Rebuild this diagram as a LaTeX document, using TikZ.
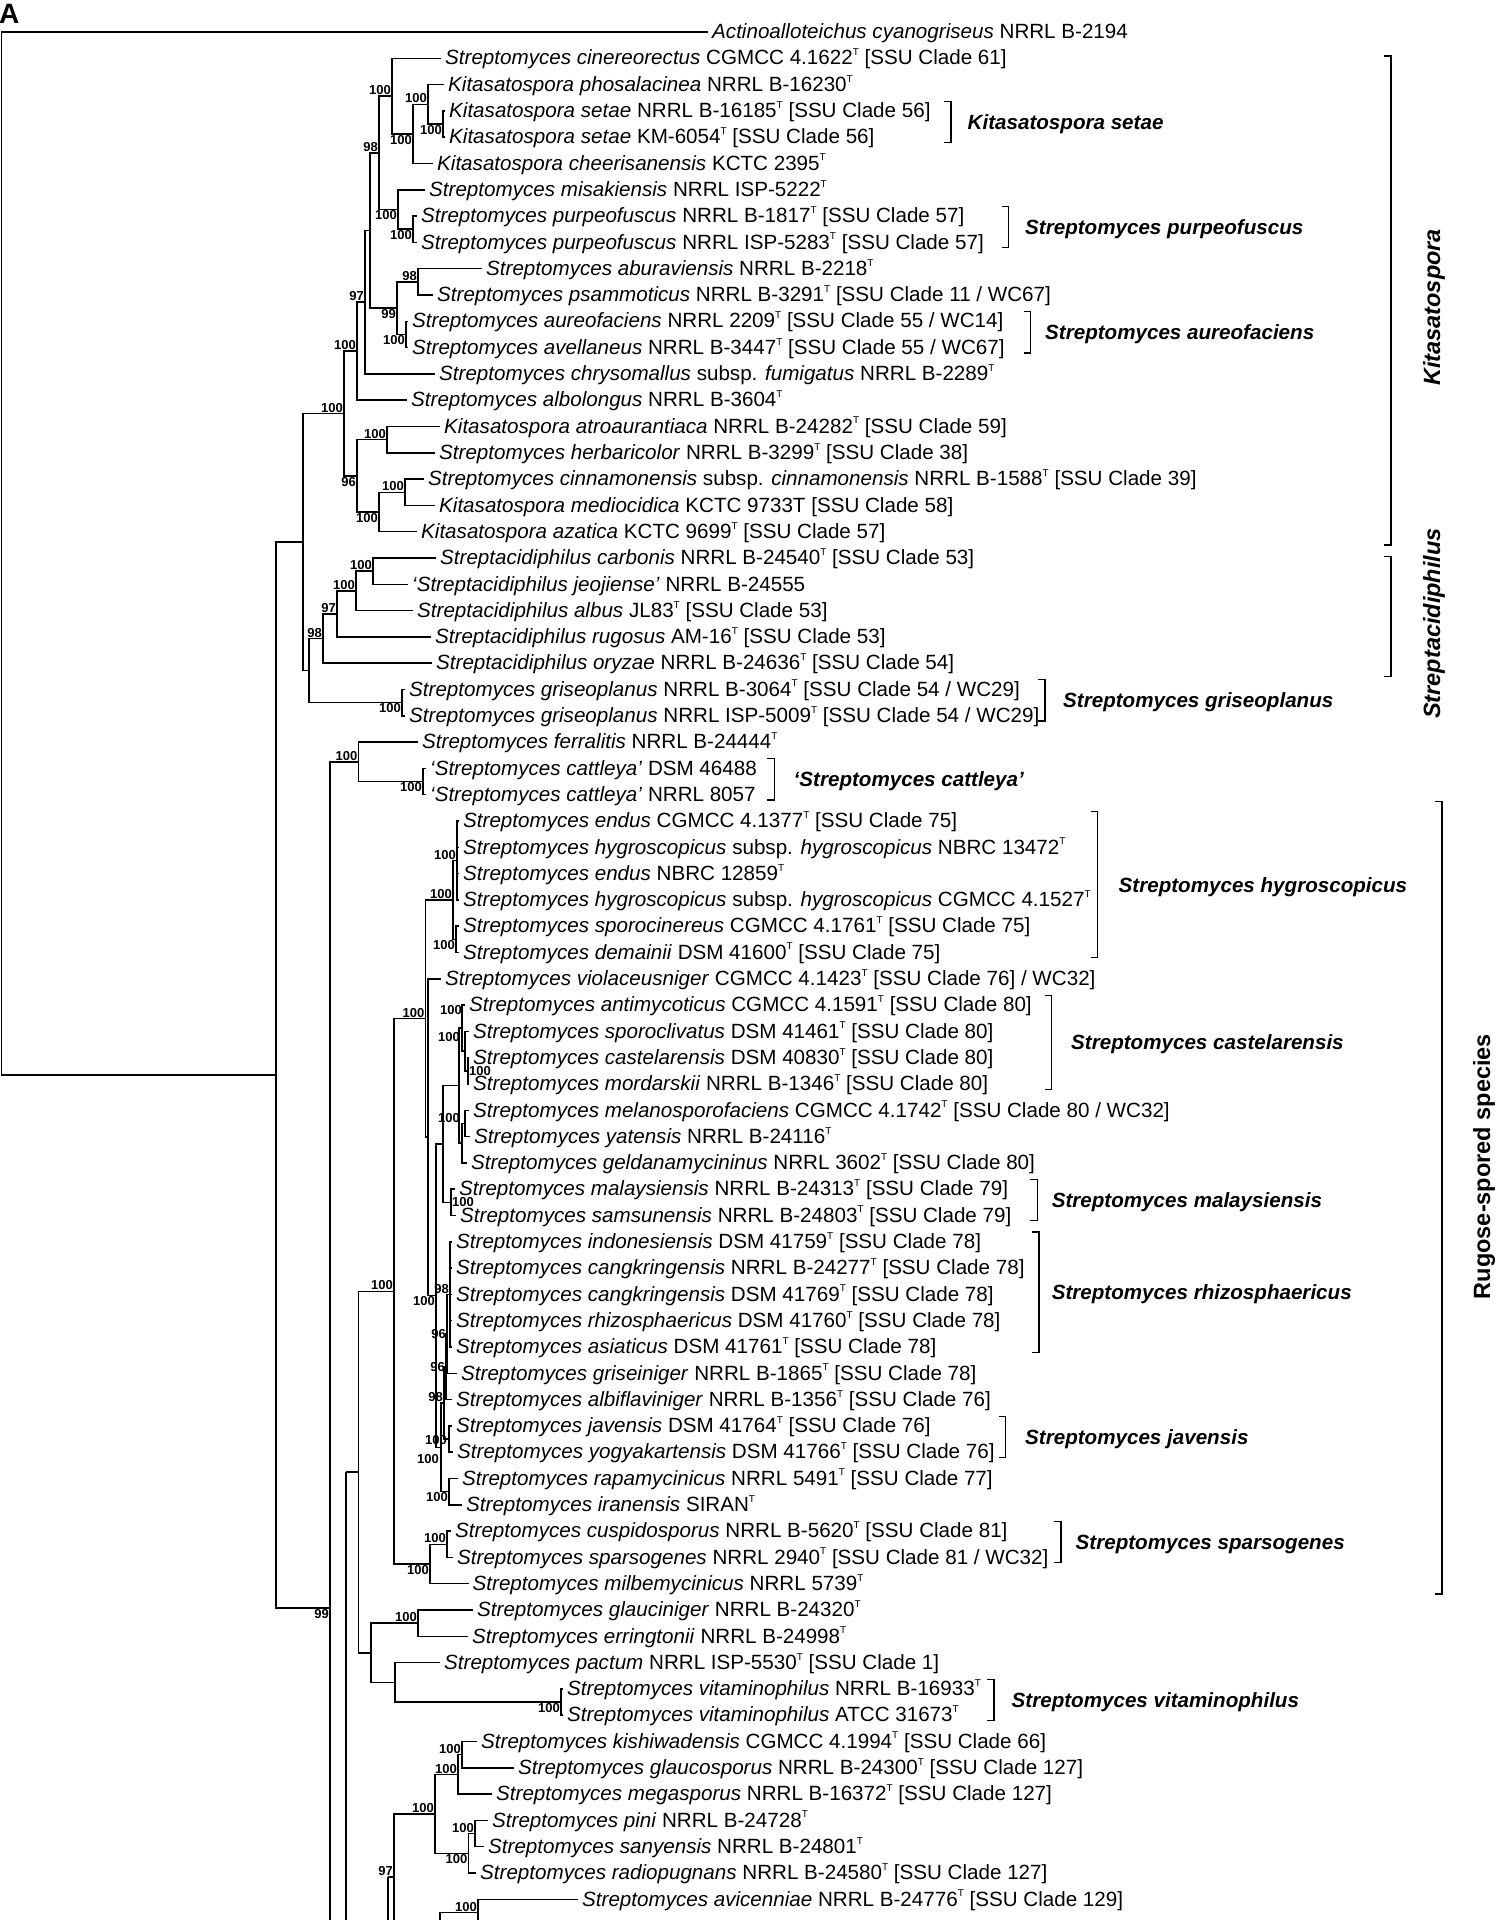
\documentclass[tikz,border=0pt]{standalone}
\usepackage{fontspec}
\setmainfont{Liberation Sans}
\usetikzlibrary{calc}
\newcommand\leaffont{\fontsize{20.6}{24}\selectfont}
\newcommand\bootfont{\fontsize{13}{13}\selectfont\bfseries}
\newcommand\cladefont{\fontsize{20.6}{24}\selectfont\bfseries\itshape}
\newcommand\genusfont{\fontsize{23.5}{26}\selectfont\bfseries}
\newcommand\panelfont{\fontsize{28}{30}\selectfont\bfseries}
\newcommand\tsup{\raisebox{0.45em}{\fontsize{10}{10}\selectfont T}}

\tikzset{
  leaf/.style={anchor=west, inner xsep=4pt, inner ysep=0pt, text height=17pt,
               text depth=3.6pt, font=\leaffont},
  boot/.style={font=\bootfont, inner sep=1pt},
  branch/.style={line width=1.5pt},
  brk/.style={line width=1.3pt},
  cladename/.style={anchor=west, inner sep=0pt, font=\cladefont},
  genus/.style={rotate=90, inner sep=0pt, font=\genusfont}
}

\begin{document}
\begin{tikzpicture}[x=1pt, y=-26.3pt]
  \useasboundingbox (0,-1.2167) rectangle (1499,71.787);
  \clip (0,-1.2167) rectangle (1499,71.787);

  \node[font=\panelfont, anchor=north west, inner sep=0pt] (panel) at (-1,-1.06) {A};

  % leaves
  \node[leaf] (l0) at (708,0) {\textit{Actinoalloteichus cyanogriseus} NRRL B-2194};
  \node[leaf] (l1) at (441,1) {\textit{Streptomyces cinereorectus} CGMCC 4.1622\tsup{} [SSU Clade 61]};
  \node[leaf] (l2) at (444,2) {\textit{Kitasatospora phosalacinea} NRRL B-16230\tsup};
  \node[leaf] (l3) at (445,3) {\textit{Kitasatospora setae} NRRL B-16185\tsup{} [SSU Clade 56]};
  \node[leaf] (l4) at (445,4) {\textit{Kitasatospora setae} KM-6054\tsup{} [SSU Clade 56]};
  \node[leaf] (l5) at (433,5) {\textit{Kitasatospora cheerisanensis} KCTC 2395\tsup};
  \node[leaf] (l6) at (425,6) {\textit{Streptomyces misakiensis} NRRL ISP-5222\tsup};
  \node[leaf] (l7) at (417,7) {\textit{Streptomyces purpeofuscus} NRRL B-1817\tsup{} [SSU Clade 57]};
  \node[leaf] (l8) at (417,8) {\textit{Streptomyces purpeofuscus} NRRL ISP-5283\tsup{} [SSU Clade 57]};
  \node[leaf] (l9) at (482,9) {\textit{Streptomyces aburaviensis} NRRL B-2218\tsup};
  \node[leaf] (l10) at (433,10) {\textit{Streptomyces psammoticus} NRRL B-3291\tsup{} [SSU Clade 11 / WC67]};
  \node[leaf] (l11) at (408,11) {\textit{Streptomyces aureofaciens} NRRL 2209\tsup{} [SSU Clade 55 / WC14]};
  \node[leaf] (l12) at (408,12) {\textit{Streptomyces avellaneus} NRRL B-3447\tsup{} [SSU Clade 55 / WC67]};
  \node[leaf] (l13) at (435,13) {\textit{Streptomyces chrysomallus} subsp. \textit{fumigatus} NRRL B-2289\tsup};
  \node[leaf] (l14) at (407,14) {\textit{Streptomyces albolongus} NRRL B-3604\tsup};
  \node[leaf] (l15) at (440,15) {\textit{Kitasatospora atroaurantiaca} NRRL B-24282\tsup{} [SSU Clade 59]};
  \node[leaf] (l16) at (435,16) {\textit{Streptomyces herbaricolor} NRRL B-3299\tsup{} [SSU Clade 38]};
  \node[leaf] (l17) at (424,17) {\textit{Streptomyces cinnamonensis} subsp. \textit{cinnamonensis} NRRL B-1588\tsup{} [SSU Clade 39]};
  \node[leaf] (l18) at (435,18) {\textit{Kitasatospora mediocidica} KCTC 9733T [SSU Clade 58]};
  \node[leaf] (l19) at (417,19) {\textit{Kitasatospora azatica} KCTC 9699\tsup{} [SSU Clade 57]};
  \node[leaf] (l20) at (436,20) {\textit{Streptacidiphilus carbonis} NRRL B-24540\tsup{} [SSU Clade 53]};
  \node[leaf] (l21) at (408,21) {\textit{‘Streptacidiphilus jeojiense’} NRRL B-24555};
  \node[leaf] (l22) at (413,22) {\textit{Streptacidiphilus albus} JL83\tsup{} [SSU Clade 53]};
  \node[leaf] (l23) at (431,23) {\textit{Streptacidiphilus rugosus} AM-16\tsup{} [SSU Clade 53]};
  \node[leaf] (l24) at (432,24) {\textit{Streptacidiphilus oryzae} NRRL B-24636\tsup{} [SSU Clade 54]};
  \node[leaf] (l25) at (405,25) {\textit{Streptomyces griseoplanus} NRRL B-3064\tsup{} [SSU Clade 54 / WC29]};
  \node[leaf] (l26) at (405,26) {\textit{Streptomyces griseoplanus} NRRL ISP-5009\tsup{} [SSU Clade 54 / WC29]};
  \node[leaf] (l27) at (418,27) {\textit{Streptomyces ferralitis} NRRL B-24444\tsup};
  \node[leaf] (l28) at (426,28) {\textit{‘Streptomyces cattleya’} DSM 46488};
  \node[leaf] (l29) at (426,29) {\textit{‘Streptomyces cattleya’} NRRL 8057};
  \node[leaf] (l30) at (459,30) {\textit{Streptomyces endus} CGMCC 4.1377\tsup{} [SSU Clade 75]};
  \node[leaf] (l31) at (459,31) {\textit{Streptomyces hygroscopicus} subsp. \textit{hygroscopicus} NBRC 13472\tsup};
  \node[leaf] (l32) at (459,32) {\textit{Streptomyces endus} NBRC 12859\tsup};
  \node[leaf] (l33) at (459,33) {\textit{Streptomyces hygroscopicus} subsp. \textit{hygroscopicus} CGMCC 4.1527\tsup};
  \node[leaf] (l34) at (459,34) {\textit{Streptomyces sporocinereus} CGMCC 4.1761\tsup{} [SSU Clade 75]};
  \node[leaf] (l35) at (459,35) {\textit{Streptomyces demainii} DSM 41600\tsup{} [SSU Clade 75]};
  \node[leaf] (l36) at (441,36) {\textit{Streptomyces violaceusniger} CGMCC 4.1423\tsup{} [SSU Clade 76] / WC32]};
  \node[leaf] (l37) at (465,37) {\textit{Streptomyces antimycoticus} CGMCC 4.1591\tsup{} [SSU Clade 80]};
  \node[leaf] (l38) at (469,38) {\textit{Streptomyces sporoclivatus} DSM 41461\tsup{} [SSU Clade 80]};
  \node[leaf] (l39) at (469,39) {\textit{Streptomyces castelarensis} DSM 40830\tsup{} [SSU Clade 80]};
  \node[leaf] (l40) at (469,40) {\textit{Streptomyces mordarskii} NRRL B-1346\tsup{} [SSU Clade 80]};
  \node[leaf] (l41) at (469,41) {\textit{Streptomyces melanosporofaciens} CGMCC 4.1742\tsup{} [SSU Clade 80 / WC32]};
  \node[leaf] (l42) at (470,42) {\textit{Streptomyces yatensis} NRRL B-24116\tsup};
  \node[leaf] (l43) at (467,43) {\textit{Streptomyces geldanamycininus} NRRL 3602\tsup{} [SSU Clade 80]};
  \node[leaf] (l44) at (455,44) {\textit{Streptomyces malaysiensis} NRRL B-24313\tsup{} [SSU Clade 79]};
  \node[leaf] (l45) at (456,45) {\textit{Streptomyces samsunensis} NRRL B-24803\tsup{} [SSU Clade 79]};
  \node[leaf] (l46) at (452,46) {\textit{Streptomyces indonesiensis} DSM 41759\tsup{} [SSU Clade 78]};
  \node[leaf] (l47) at (452,47) {\textit{Streptomyces cangkringensis} NRRL B-24277\tsup{} [SSU Clade 78]};
  \node[leaf] (l48) at (452,48) {\textit{Streptomyces cangkringensis} DSM 41769\tsup{} [SSU Clade 78]};
  \node[leaf] (l49) at (452,49) {\textit{Streptomyces rhizosphaericus} DSM 41760\tsup{} [SSU Clade 78]};
  \node[leaf] (l50) at (452,50) {\textit{Streptomyces asiaticus} DSM 41761\tsup{} [SSU Clade 78]};
  \node[leaf] (l51) at (457,51) {\textit{Streptomyces griseiniger} NRRL B-1865\tsup{} [SSU Clade 78]};
  \node[leaf] (l52) at (452,52) {\textit{Streptomyces albiflaviniger} NRRL B-1356\tsup{} [SSU Clade 76]};
  \node[leaf] (l53) at (452,53) {\textit{Streptomyces javensis} DSM 41764\tsup{} [SSU Clade 76]};
  \node[leaf] (l54) at (453,54) {\textit{Streptomyces yogyakartensis} DSM 41766\tsup{} [SSU Clade 76]};
  \node[leaf] (l55) at (458,55) {\textit{Streptomyces rapamycinicus} NRRL 5491\tsup{} [SSU Clade 77]};
  \node[leaf] (l56) at (462,56) {\textit{Streptomyces iranensis} SIRAN\tsup};
  \node[leaf] (l57) at (451,57) {\textit{Streptomyces cuspidosporus} NRRL B-5620\tsup{} [SSU Clade 81]};
  \node[leaf] (l58) at (453,58) {\textit{Streptomyces sparsogenes} NRRL 2940\tsup{} [SSU Clade 81 / WC32]};
  \node[leaf] (l59) at (468.5,59) {\textit{Streptomyces milbemycinicus} NRRL 5739\tsup};
  \node[leaf] (l60) at (473,60) {\textit{Streptomyces glauciniger} NRRL B-24320\tsup};
  \node[leaf] (l61) at (468,61) {\textit{Streptomyces erringtonii} NRRL B-24998\tsup};
  \node[leaf] (l62) at (440,62) {\textit{Streptomyces pactum} NRRL ISP-5530\tsup{} [SSU Clade 1]};
  \node[leaf] (l63) at (563,63) {\textit{Streptomyces vitaminophilus} NRRL B-16933\tsup};
  \node[leaf] (l64) at (563,64) {\textit{Streptomyces vitaminophilus} ATCC 31673\tsup};
  \node[leaf] (l65) at (477,65) {\textit{Streptomyces kishiwadensis} CGMCC 4.1994\tsup{} [SSU Clade 66]};
  \node[leaf] (l66) at (514,66) {\textit{Streptomyces glaucosporus} NRRL B-24300\tsup{} [SSU Clade 127]};
  \node[leaf] (l67) at (492,67) {\textit{Streptomyces megasporus} NRRL B-16372\tsup{} [SSU Clade 127]};
  \node[leaf] (l68) at (488,68) {\textit{Streptomyces pini} NRRL B-24728\tsup};
  \node[leaf] (l69) at (484,69) {\textit{Streptomyces sanyensis} NRRL B-24801\tsup};
  \node[leaf] (l70) at (476,70) {\textit{Streptomyces radiopugnans} NRRL B-24580\tsup{} [SSU Clade 127]};
  \node[leaf] (l71) at (578,71) {\textit{Streptomyces avicenniae} NRRL B-24776\tsup{} [SSU Clade 129]};

  % inner nodes
  \coordinate (root) at (1.5,19.83);
  \coordinate (A) at (276,39.657);
  \coordinate (B) at (303,19.394);
  \coordinate (kit) at (344,14.506);
  \coordinate (k1) at (357,12.137);
  \coordinate (n97) at (365,10.273);
  \coordinate (nx) at (370,7.547);
  \coordinate (n98) at (379,4.594);
  \coordinate (nci) at (392,2.4375);
  \coordinate (nch) at (413,3.875);
  \coordinate (nph) at (428,2.75);
  \coordinate (nse) at (443,3.5);
  \coordinate (nmi) at (398,6.75);
  \coordinate (npu) at (413,7.5);
  \coordinate (n99) at (397,10.5);
  \coordinate (nab) at (418,9.5);
  \coordinate (nau) at (406,11.5);
  \coordinate (k2) at (357,16.875);
  \coordinate (nah) at (387,15.5);
  \coordinate (naz) at (379,18.25);
  \coordinate (ncm) at (405,17.5);
  \coordinate (sa) at (309,24.281);
  \coordinate (s4) at (323,23.0625);
  \coordinate (s3) at (337,22.125);
  \coordinate (s2) at (356,21.25);
  \coordinate (s1) at (373,20.5);
  \coordinate (gp) at (402,25.5);
  \coordinate (S) at (330,59.92);
  \coordinate (fc) at (358.5,27.75);
  \coordinate (ca) at (423,28.5);
  \coordinate (rp) at (346,54.753);
  \coordinate (R) at (358.5,54.753);
  \coordinate (rg) at (394,47.881);
  \coordinate (rh) at (425.5,37.512);
  \coordinate (hy) at (453,33);
  \coordinate (e1) at (457,31.5);
  \coordinate (e2) at (456,34.5);
  \coordinate (vn) at (428,42.023);
  \coordinate (X) at (436,48.047);
  \coordinate (q) at (443,42.281);
  \coordinate (z) at (459,40.0625);
  \coordinate (cg) at (462,37.875);
  \coordinate (scm) at (465,38.75);
  \coordinate (cmm) at (468,39.5);
  \coordinate (myg) at (462,42.25);
  \coordinate (my) at (465,41.5);
  \coordinate (ms) at (451,44.5);
  \coordinate (n4) at (441,53.8125);
  \coordinate (n3) at (444,52.125);
  \coordinate (n2) at (446,50.75);
  \coordinate (n1) at (447,49.5);
  \coordinate (rz) at (450,48);
  \coordinate (jy) at (449,53.5);
  \coordinate (ri) at (449,55.5);
  \coordinate (sp) at (430,58.25);
  \coordinate (cs) at (447,57.5);
  \coordinate (P) at (371,61.625);
  \coordinate (ge) at (418,60.5);
  \coordinate (pv) at (395,62.75);
  \coordinate (vp) at (561,63.5);
  \coordinate (np) at (388,70.15);
  \coordinate (n97b) at (394,70.15);
  \coordinate (nk) at (435,67.75);
  \coordinate (kgm) at (458,66.25);
  \coordinate (kg) at (462,65.5);
  \coordinate (psr) at (468.5,69.25);
  \coordinate (ps) at (475,68.5);
  \coordinate (avn) at (440,72.55);
  \coordinate (av) at (478,71.5);
  \coordinate (cut) at (0,73);

  % branches
  \draw[branch]
    (root) |- (l0.west) (root) |- (A)
    (A) |- (B) (A) |- (S)
    (B) |- (kit) (B) |- (sa)
    (kit) |- (k1) (kit) |- (k2)
    (k1) |- (n97) (k1) |- (l14.west)
    (n97) |- (nx) (n97) |- (l13.west)
    (nx) |- (n98) (nx) |- (n99)
    (n98) |- (nci) (n98) |- (nmi)
    (nci) |- (l1.west) (nci) |- (nch)
    (nch) |- (nph) (nch) |- (l5.west)
    (nph) |- (l2.west) (nph) |- (nse)
    (nse) |- (l3.west) (nse) |- (l4.west)
    (nmi) |- (l6.west) (nmi) |- (npu)
    (npu) |- (l7.west) (npu) |- (l8.west)
    (n99) |- (nab) (n99) |- (nau)
    (nab) |- (l9.west) (nab) |- (l10.west)
    (nau) |- (l11.west) (nau) |- (l12.west)
    (k2) |- (nah) (k2) |- (naz)
    (nah) |- (l15.west) (nah) |- (l16.west)
    (naz) |- (ncm) (naz) |- (l19.west)
    (ncm) |- (l17.west) (ncm) |- (l18.west)
    (sa) |- (s4) (sa) |- (gp)
    (s4) |- (s3) (s4) |- (l24.west)
    (s3) |- (s2) (s3) |- (l23.west)
    (s2) |- (s1) (s2) |- (l22.west)
    (s1) |- (l20.west) (s1) |- (l21.west)
    (gp) |- (l25.west) (gp) |- (l26.west)
    (S) |- (fc) (S) -- (S |- cut)
    (fc) |- (l27.west) (fc) |- (ca)
    (ca) |- (l28.west) (ca) |- (l29.west)
    (rp) -- (R) (rp) -- (rp |- cut)
    (R) |- (rg) (R) |- (P)
    (rg) |- (rh) (rg) |- (sp)
    (rh) |- (hy) (rh) |- (vn)
    (hy) |- (e1) (hy) |- (e2)
    (e1) |- (l30.west) (e1) |- (l31.west) (e1) |- (l32.west) (e1) |- (l33.west)
    (e2) |- (l34.west) (e2) |- (l35.west)
    (vn) |- (l36.west) (vn) |- (X)
    (X) |- (q) (X) |- (n4)
    (q) |- (z) (q) |- (ms)
    (z) |- (cg) (z) |- (myg)
    (cg) |- (l37.west) (cg) |- (scm)
    (scm) |- (l38.west) (scm) |- (cmm)
    (cmm) |- (l39.west) (cmm) |- (l40.west)
    (myg) |- (my) (myg) |- (l43.west)
    (my) |- (l41.west) (my) |- (l42.west)
    (ms) |- (l44.west) (ms) |- (l45.west)
    (n4) |- (n3) (n4) |- (ri)
    (n3) |- (n2) (n3) |- (jy)
    (n2) |- (n1) (n2) |- (l52.west)
    (n1) |- (rz) (n1) |- (l51.west)
    (rz) |- (l46.west) (rz) |- (l47.west) (rz) |- (l48.west) (rz) |- (l49.west) (rz) |- (l50.west)
    (jy) |- (l53.west) (jy) |- (l54.west)
    (ri) |- (l55.west) (ri) |- (l56.west)
    (sp) |- (cs) (sp) |- (l59.west)
    (cs) |- (l57.west) (cs) |- (l58.west)
    (P) |- (ge) (P) |- (pv)
    (ge) |- (l60.west) (ge) |- (l61.west)
    (pv) |- (l62.west) (pv) |- (vp)
    (vp) |- (l63.west) (vp) |- (l64.west)
    (np) -- (n97b) (np) -- (np |- cut)
    (n97b) |- (nk) (n97b) |- (avn)
    (nk) |- (kgm) (nk) |- (psr)
    (kgm) |- (kg) (kgm) |- (l67.west)
    (kg) |- (l65.west) (kg) |- (l66.west)
    (psr) |- (ps) (psr) |- (l70.west)
    (ps) |- (l68.west) (ps) |- (l69.west)
    (avn) |- (av) (avn) -- (avn |- cut)
    (av) |- (l71.west) (av) -- (av |- cut);

  % bootstrap values
  \node[boot, above left] (b1) at (nci) {100};
  \node[boot, above left] (b2) at (nph) {100};
  \node[boot, below left] (b3) at (nse) {100};
  \node[boot, below left] (b4) at (nch) {100};
  \node[boot, above left] (b5) at (n98) {98};
  \node[boot, below left] (b6) at (nmi) {100};
  \node[boot, below left] (b7) at (npu) {100};
  \node[boot, above left] (b8) at (nab) {98};
  \node[boot, below left] (b9) at (n99) {99};
  \node[boot, below left] (b10) at (nau) {100};
  \node[boot, above left] (b11) at (n97) {97};
  \node[boot, above left] (b12) at (k1) {100};
  \node[boot, above left] (b13) at (kit) {100};
  \node[boot, above left] (b14) at (nah) {100};
  \node[boot, above left] (b15) at (ncm) {100};
  \node[boot, below left] (b16) at (naz) {100};
  \node[boot, below left] (b17) at (k2) {96};
  \node[boot, above left] (b18) at (s1) {100};
  \node[boot, above left] (b19) at (s2) {100};
  \node[boot, above left] (b20) at (s3) {97};
  \node[boot, above left] (b21) at (s4) {98};
  \node[boot, below left] (b22) at (gp) {100};
  \node[boot, below left] (b23) at (S) {99};
  \node[boot, above left] (b24) at (fc) {100};
  \node[boot, below left] (b25) at (ca) {100};
  \node[boot, above left] (b26) at (e1) {100};
  \node[boot, below left] (b27) at (e2) {100};
  \node[boot, above left] (b28) at (hy) {100};
  \node[boot, above left] (b29) at (rh) {100};
  \node[boot, left] (b30) at ($(cg)+(1,-0.7)$) {100};
  \node[boot, left] (b31) at ($(scm)+(-4,-0.55)$) {100};
  \node[boot, right] (b32) at (cmm) {100};
  \node[boot, above left] (b33) at ($(my)+(-4,0)$) {100};
  \node[boot, right] (b34) at (ms) {100};
  \node[boot, above left] (b35) at (rz) {98};
  \node[boot, below left] (b36) at (X) {100};
  \node[boot, left] (b37) at (n1) {96};
  \node[boot, left] (b38) at (n2) {96};
  \node[boot, above left] (b39) at (n3) {98};
  \node[boot, left] (b40) at ($(jy)+(-1,0.05)$) {100};
  \node[boot, left] (b41) at ($(n4)+(-1,0.45)$) {100};
  \node[boot, below left] (b42) at (ri) {100};
  \node[boot, above left] (b43) at (rg) {100};
  \node[boot, above left] (b44) at (cs) {100};
  \node[boot, below left] (b45) at (sp) {100};
  \node[boot, above left] (b46) at (ge) {100};
  \node[boot, below left] (b47) at (vp) {100};
  \node[boot, above left] (b48) at (kg) {100};
  \node[boot, above left] (b49) at (kgm) {100};
  \node[boot, above left] (b50) at (nk) {100};
  \node[boot, above left] (b51) at (ps) {100};
  \node[boot, below left] (b52) at (psr) {100};
  \node[boot, above left] (b53) at (n97b) {97};
  \node[boot, above left] (b54) at (av) {100};

  % clade brackets
  \draw[brk] (944,2.63) -- (951,2.63) -- (951,4.2) -- (944,4.2);
  \draw[brk] (1001.6,6.63) -- (1008.6,6.63) -- (1008.6,8.2) -- (1001.6,8.2);
  \draw[brk] (1023.6,10.63) -- (1030.6,10.63) -- (1030.6,12.2) -- (1023.6,12.2);
  \draw[brk] (1038,24.63) -- (1045,24.63) -- (1045,26.2) -- (1038,26.2);
  \draw[brk] (767.4,27.63) -- (774.4,27.63) -- (774.4,29.2) -- (767.4,29.2);
  \draw[brk] (1090.5,29.63) -- (1097.5,29.63) -- (1097.5,35.2) -- (1090.5,35.2);
  \draw[brk] (1044.6,36.63) -- (1051.6,36.63) -- (1051.6,40.2) -- (1044.6,40.2);
  \draw[brk] (1030.3,43.63) -- (1037.3,43.63) -- (1037.3,45.2) -- (1030.3,45.2);
  \draw[brk] (1032,45.63) -- (1039,45.63) -- (1039,50.2) -- (1032,50.2);
  \draw[brk] (998.7,52.63) -- (1005.7,52.63) -- (1005.7,54.2) -- (998.7,54.2);
  \draw[brk] (1054,56.63) -- (1061,56.63) -- (1061,58.2) -- (1054,58.2);
  \draw[brk] (987,62.63) -- (994,62.63) -- (994,64.2) -- (987,64.2);

  \node[cladename] (cSetae) at (967.5,3.5) {Kitasatospora setae};
  \node[cladename] (cPurp) at (1025,7.5) {Streptomyces purpeofuscus};
  \node[cladename] (cAureo) at (1045,11.5) {Streptomyces aureofaciens};
  \node[cladename] (cGrisp) at (1063,25.5) {Streptomyces griseoplanus};
  \node[cladename] (cCatt) at (793.5,28.5) {‘Streptomyces cattleya’};
  \node[cladename] (cHygro) at (1118.5,32.5) {Streptomyces hygroscopicus};
  \node[cladename] (cCast) at (1071,38.5) {Streptomyces castelarensis};
  \node[cladename] (cMalay) at (1051.6,44.5) {Streptomyces malaysiensis};
  \node[cladename] (cRhizo) at (1051.6,48) {Streptomyces rhizosphaericus};
  \node[cladename] (cJav) at (1025,53.5) {Streptomyces javensis};
  \node[cladename] (cSpars) at (1075.5,57.5) {Streptomyces sparsogenes};
  \node[cladename] (cVita) at (1011.5,63.5) {Streptomyces vitaminophilus};

  % genus brackets
  \draw[brk] (1384,0.91) -- (1391,0.91) -- (1391,19.5) -- (1384,19.5);
  \draw[brk] (1384,19.95) -- (1391,19.95) -- (1391,24.51) -- (1384,24.51);
  \draw[brk] (1435,29.27) -- (1442,29.27) -- (1442,59.39) -- (1435,59.39);
  \node[genus] (gKit) at (1434,10.47) {\itshape Kitasatospora};
  \node[genus] (gStr) at (1434,22.49) {\itshape Streptacidiphilus};
  \node[genus] (gRug) at (1484,43.14) {Rugose-spored species};
\end{tikzpicture}
\end{document}
